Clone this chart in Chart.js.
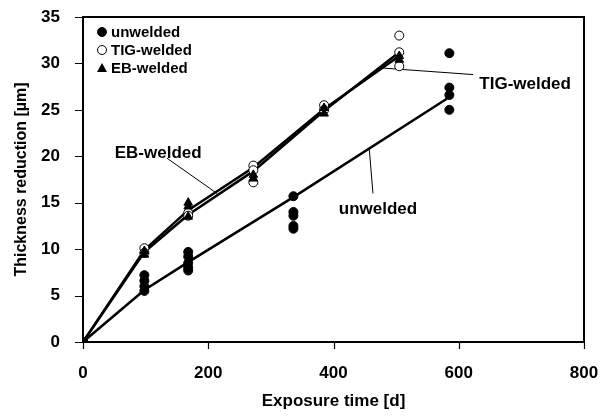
<!DOCTYPE html>
<html>
<head>
<meta charset="utf-8">
<script src="https://cdn.jsdelivr.net/npm/chart.js@4.4.1/dist/chart.umd.min.js"></script>
<style>
  html, body { margin: 0; padding: 0; background: #fff; }
  #wrap { width: 601px; height: 419px; }
</style>
</head>
<body>
<div id="wrap"><canvas id="myChart" width="601" height="419"></canvas></div>
<script>
// measured points: exposure time [d] / thickness reduction [µm]
const unweldedDays = [0, 0, 98, 98, 98, 98, 168, 168, 168, 168, 168, 336, 336, 336, 336, 336, 585, 585, 585, 585];
const unweldedValues = [0, 0, 7.2, 6.6, 6.0, 5.5, 9.7, 9.2, 8.5, 8.0, 7.7, 15.7, 14.0, 13.6, 12.5, 12.2, 31.1, 27.4, 26.6, 25.0];

const tigDays = [0, 98, 98, 168, 168, 272, 272, 272, 385, 385, 505, 505, 505];
const tigValues = [0, 10.1, 9.6, 13.9, 13.6, 19.0, 18.5, 17.2, 25.5, 25.0, 33.0, 31.2, 29.7];

const ebDays = [0, 98, 98, 168, 168, 168, 272, 272, 385, 385, 505, 505];
const ebValues = [0, 9.8, 9.4, 15.0, 14.6, 13.5, 18.0, 17.6, 25.2, 24.6, 30.8, 30.4];

// trend lines through the clusters
const unweldedFitDays = [0, 98, 168, 336, 581];
const unweldedFitValues = [0, 5.6, 8.6, 15.6, 26.2];
const tigFitDays = [0, 98, 168, 272, 385, 505];
const tigFitValues = [0, 9.7, 13.7, 18.4, 24.9, 31.2];
const ebFitDays = [0, 98, 168, 272, 385, 505];
const ebFitValues = [0, 9.9, 14.2, 18.8, 25.1, 30.8];

// callout labels and their leader lines
const calloutTexts = ['EB-welded', 'unwelded', 'TIG-welded'];
const calloutDays = [120, 471, 706];
const calloutValues = [20.3, 14.3, 27.7];
const leaderDays = [[134, 214], [457, 463], [479, 623]];
const leaderValues = [[19.8, 16.0], [20.9, 16.0], [29.5, 28.8]];

const xTicks = [0, 200, 400, 600, 800];

const FONT = "'Liberation Sans', Arial, Helvetica, sans-serif";

function toPoints(xs, ys) {
    return xs.map((x, i) => ({ x: x, y: ys[i] }));
}

let datasets = [];

leaderDays.forEach((d, i) => {
    datasets.push({
        type: 'line',
        data: toPoints(d, leaderValues[i]),
        borderColor: '#000',
        borderWidth: 1,
        pointRadius: 0,
        order: 5
    });
});

[[unweldedFitDays, unweldedFitValues], [tigFitDays, tigFitValues], [ebFitDays, ebFitValues]].forEach(f => {
    datasets.push({
        type: 'line',
        data: toPoints(f[0], f[1]),
        borderColor: '#000',
        borderWidth: 2.5,
        pointRadius: 0,
        tension: 0,
        order: 4
    });
});

datasets.push({
    label: 'unwelded',
    type: 'scatter',
    data: toPoints(unweldedDays, unweldedValues),
    pointStyle: 'circle',
    pointRadius: 4.5,
    backgroundColor: '#000',
    borderColor: '#000',
    borderWidth: 1,
    order: 1
});
datasets.push({
    label: 'TIG-welded',
    type: 'scatter',
    data: toPoints(tigDays, tigValues),
    pointStyle: 'circle',
    pointRadius: 4.5,
    backgroundColor: '#fff',
    borderColor: '#000',
    borderWidth: 1,
    order: 3
});
datasets.push({
    label: 'EB-welded',
    type: 'scatter',
    data: toPoints(ebDays, ebValues),
    pointStyle: 'triangle',
    pointRadius: 5,
    backgroundColor: '#000',
    borderColor: '#000',
    borderWidth: 1,
    order: 2
});

// frame, outside tick marks, callouts and the in-plot legend
const decorations = {
    id: 'decorations',
    afterDatasetsDraw(chart) {
        const ctx = chart.ctx;
        const a = chart.chartArea;
        const xs = chart.scales.x, ys = chart.scales.y;
        ctx.save();
        ctx.strokeStyle = '#000';
        ctx.lineWidth = 2;
        ctx.strokeRect(a.left, a.top, a.right - a.left, a.bottom - a.top);

        ctx.lineWidth = 1.2;
        ctx.beginPath();
        xTicks.forEach(v => {
            const px = Math.round(xs.getPixelForValue(v)) + 0.5;
            ctx.moveTo(px, a.bottom);
            ctx.lineTo(px, a.bottom + 7);
        });
        ys.ticks.forEach(t => {
            const py = Math.round(ys.getPixelForValue(t.value)) + 0.5;
            ctx.moveTo(a.left, py);
            ctx.lineTo(a.left - 8, py);
        });
        ctx.stroke();

        ctx.fillStyle = '#000';
        ctx.font = 'bold 17px ' + FONT;
        ctx.textAlign = 'center';
        ctx.textBaseline = 'middle';
        calloutTexts.forEach((t, i) => {
            ctx.fillText(t, xs.getPixelForValue(calloutDays[i]), ys.getPixelForValue(calloutValues[i]));
        });

        // legend
        const lx = a.left + 19, ly = a.top + 15, step = 18;
        ctx.font = 'bold 15px ' + FONT;
        ctx.textAlign = 'left';
        const legendItems = ['unwelded', 'TIG-welded', 'EB-welded'];
        legendItems.forEach((t, i) => {
            const y = ly + i * step;
            ctx.lineWidth = 1;
            if (i === 2) {
                ctx.beginPath();
                ctx.moveTo(lx, y - 5);
                ctx.lineTo(lx + 5, y + 4);
                ctx.lineTo(lx - 5, y + 4);
                ctx.closePath();
                ctx.fill();
            } else {
                ctx.beginPath();
                ctx.arc(lx, y, 4.5, 0, Math.PI * 2);
                ctx.fillStyle = i === 0 ? '#000' : '#fff';
                ctx.fill();
                ctx.stroke();
                ctx.fillStyle = '#000';
            }
            ctx.fillText(t, lx + 9, y + 1);
        });
        ctx.restore();
    }
};

document.addEventListener("DOMContentLoaded", function () {
    new Chart("myChart", {
        type: 'scatter',
        data: { datasets: datasets },
        plugins: [decorations],
        options: {
            responsive: false,
            animation: false,
            layout: { padding: { top: 17, right: 17, left: 12, bottom: 7 } },
            scales: {
                x: {
                    type: 'linear',
                    min: 0,
                    max: 800,
                    afterBuildTicks: axis => { axis.ticks = xTicks.map(v => ({ value: v })); },
                    afterFit: axis => {
                        axis.height = 70;
                        axis.paddingLeft = 0;
                        axis.paddingRight = 0;
                    },
                    grid: { display: false },
                    border: { color: '#000', width: 2 },
                    ticks: { color: '#000', padding: 13, font: { family: FONT, size: 17, weight: 'bold' } },
                    title: {
                        display: true,
                        text: 'Exposure time [d]',
                        color: '#000',
                        padding: { top: 2, bottom: 0 },
                        font: { family: FONT, size: 17, weight: 'bold' }
                    }
                },
                y: {
                    type: 'linear',
                    min: 0,
                    max: 35,
                    ticks: { stepSize: 5, color: '#000', padding: 15, font: { family: FONT, size: 17, weight: 'bold' } },
                    afterFit: axis => {
                        axis.width = 71;
                        axis.paddingTop = 0;
                        axis.paddingBottom = 0;
                    },
                    grid: { display: false },
                    border: { color: '#000', width: 2 },
                    title: {
                        display: true,
                        text: 'Thickness reduction [µm]',
                        color: '#000',
                        padding: { top: 0, bottom: 4 },
                        font: { family: FONT, size: 16, weight: 'bold' }
                    }
                }
            },
            plugins: {
                legend: { display: false },
                tooltip: { enabled: false }
            }
        }
    });
});
</script>
</body>
</html>
